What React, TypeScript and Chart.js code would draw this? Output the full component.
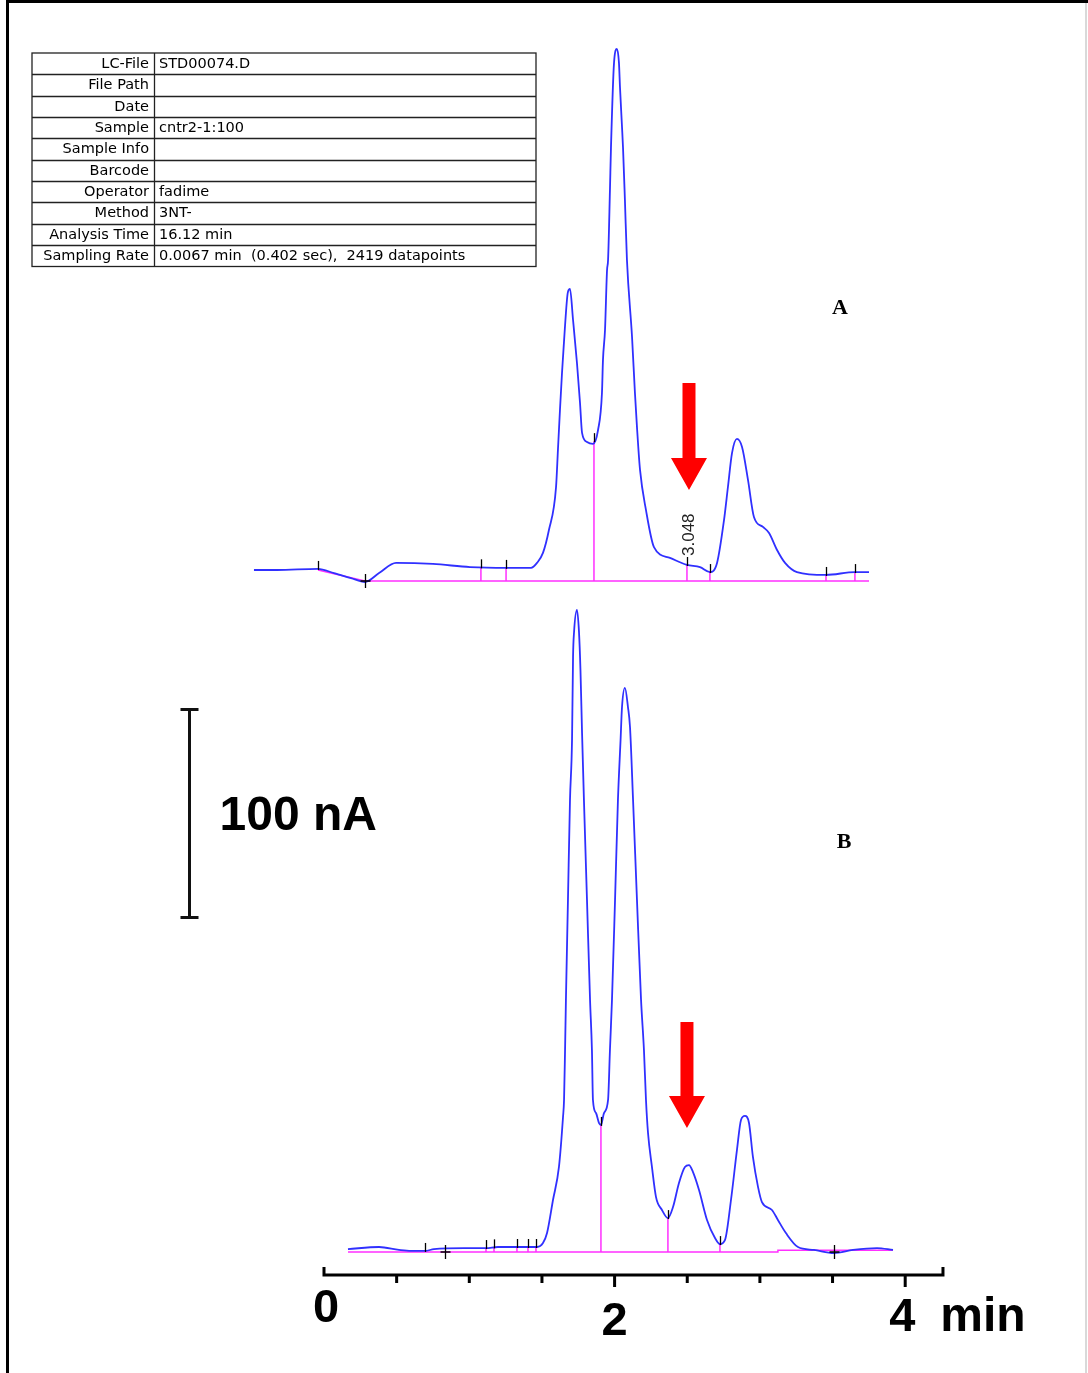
import React, { useEffect, useRef } from "react";
import { Chart, registerables } from "chart.js";

Chart.register(...registerables);

// ---------------- DATA ----------------
// Chromatogram A: retention time (min) and detector current above baseline (nA)
const TRACE_A_T = [-0.482, -0.323, -0.041, 0.069, 0.186, 0.282, 0.379, 0.496, 0.75, 1.005, 1.253, 1.425, 1.466, 1.507, 1.548, 1.597, 1.61, 1.624, 1.638, 1.645, 1.672, 1.679, 1.693, 1.714, 1.741, 1.762, 1.776, 1.81, 1.851, 1.886, 1.913, 1.92, 1.934, 1.948, 1.955, 1.968, 1.975, 1.996, 2.016, 2.03, 2.037, 2.051, 2.058, 2.071, 2.085, 2.12, 2.14, 2.154, 2.175, 2.216, 2.271, 2.381, 2.498, 2.588, 2.656, 2.705, 2.753, 2.78, 2.808, 2.842, 2.877, 2.918, 2.959, 3.021, 3.063, 3.118, 3.173, 3.255, 3.455, 3.654, 3.751];
const TRACE_A_V = [5.3, 5.3, 5.8, 3.8, 1.4, -0.5, 3.8, 8.7, 8.2, 6.7, 6.3, 6.3, 8.7, 13.5, 24.5, 45.2, 63.0, 82.2, 100.0, 107.7, 135.1, 139.0, 140.4, 125.5, 104.8, 85.6, 71.2, 66.8, 65.9, 72.6, 90.4, 106.3, 120.7, 149.5, 154.3, 188.0, 208.2, 249.1, 255.8, 249.1, 237.5, 218.3, 208.2, 183.2, 154.3, 117.3, 90.4, 74.0, 53.4, 34.1, 16.3, 11.1, 7.7, 6.7, 4.3, 8.7, 29.3, 45.2, 61.5, 68.3, 64.4, 48.6, 30.8, 26.0, 23.1, 14.9, 8.7, 4.3, 2.9, 4.3, 4.3];

// Chromatogram B
const TRACE_B_T = [0.165, 0.379, 0.516, 0.599, 0.695, 0.757, 0.963, 1.115, 1.197, 1.466, 1.507, 1.535, 1.576, 1.617, 1.645, 1.652, 1.659, 1.665, 1.679, 1.693, 1.707, 1.714, 1.721, 1.741, 1.755, 1.765, 1.776, 1.789, 1.81, 1.831, 1.844, 1.851, 1.872, 1.893, 1.906, 1.927, 1.955, 1.968, 1.982, 2.003, 2.023, 2.041, 2.051, 2.071, 2.092, 2.106, 2.127, 2.154, 2.182, 2.202, 2.216, 2.23, 2.257, 2.285, 2.326, 2.367, 2.402, 2.443, 2.484, 2.512, 2.539, 2.581, 2.636, 2.691, 2.725, 2.76, 2.801, 2.842, 2.87, 2.897, 2.925, 2.952, 2.987, 3.014, 3.083, 3.124, 3.179, 3.262, 3.372, 3.51, 3.641, 3.806, 3.916];
const TRACE_B_V = [1.4, 2.4, 1.0, 0.5, 0.5, 1.4, 1.9, 1.9, 2.4, 2.4, 4.3, 9.1, 25.0, 40.9, 64.9, 73.1, 97.1, 121.2, 169.2, 217.3, 246.2, 286.1, 298.1, 308.7, 298.0, 280.0, 249.5, 217.3, 169.2, 121.2, 97.1, 73.1, 66.8, 62.0, 61.1, 66.8, 73.1, 97.1, 121.2, 169.2, 217.3, 246.0, 262.0, 271.2, 262.0, 252.4, 217.3, 169.2, 121.2, 97.1, 73.1, 57.2, 40.9, 26.4, 20.2, 16.3, 21.6, 33.2, 40.9, 41.8, 38.5, 29.8, 15.4, 6.7, 3.8, 5.8, 25.0, 49.0, 63.5, 65.4, 62.0, 45.7, 31.3, 24.0, 20.2, 15.4, 9.1, 2.4, 1.0, -0.5, 1.0, 1.9, 1.0];

// Integration baselines
const BASE_A_T = [-0.041, 0.282, 3.751];
const BASE_A_V = [5.3, 0, 0];
const BASE_B_T = [0.165, 3.124, 3.124, 3.916];
const BASE_B_V = [0, 0, 0.8, 0.8];

// Peak drop lines (integration boundaries)
const DROPS_A_T = [1.08, 1.253, 1.858, 2.498, 2.656, 3.455, 3.654];
const DROPS_B_T = [1.115, 1.17, 1.328, 1.404, 1.459, 1.906, 2.367, 2.725];

// Event tick marks
const TICKS_A_T = [-0.041, 1.08, 1.253, 1.858, 2.498, 2.656, 3.455, 3.654];
const CROSS_A_T = [0.282];
const TICKS_B_T = [0.695, 1.115, 1.17, 1.328, 1.404, 1.459, 1.906, 2.367, 2.725];
const CROSS_B_T = [0.833, 3.51];

const PEAK_LABEL_A = "3.048";
const PEAK_LABEL_A_T = 2.498;

// Time axis
const AXIS_TICKS = [0, 0.5, 1, 1.5, 2, 2.5, 3, 3.5, 4];
const AXIS_MAJOR = [2, 4];
const AXIS_LABEL_VALUES = [0, 2, 4];
const AXIS_LABELS = ["0", "2", "4"];
const AXIS_END = 4.26;
const AXIS_UNIT = "min";

// Scale bar
const SCALE_BAR_NA = 100;
const SCALE_BAR_LABEL = "100 nA";

// Panel labels
const PANEL_LABELS = ["A", "B"];

// Info table
const TABLE_LABELS = ["LC-File", "File Path", "Date", "Sample", "Sample Info", "Barcode", "Operator", "Method", "Analysis Time", "Sampling Rate"];
const TABLE_VALUES = ["STD00074.D", "", "", "cntr2-1:100", "", "", "fadime", "3NT-", "16.12 min", "0.0067 min  (0.402 sec),  2419 datapoints"];

// ---------------- LAYOUT ----------------
const W = 1088;
const H = 1373;
const X0_PX = 324; // pixel of t = 0
const PX_PER_MIN = 145.3;
const PX_PER_NA = 2.08;
const BASE_A_PX = 581;
const BASE_B_PX = 1252;

const TRACE_COLOR = "#3030ff";
const PINK = "#ff30ff";

function interp(ts: number[], vs: number[], t: number): number {
  if (t <= ts[0]) return vs[0];
  for (let i = 0; i < ts.length - 1; i++) {
    if (t <= ts[i + 1]) {
      const d = ts[i + 1] - ts[i];
      if (d === 0) return vs[i + 1];
      return vs[i] + ((vs[i + 1] - vs[i]) * (t - ts[i])) / d;
    }
  }
  return vs[vs.length - 1];
}

function toPoints(ts: number[], vs: number[]) {
  return ts.map((t, i) => ({ x: t, y: vs[i] }));
}

function dropPoints(drops: number[], tt: number[], tv: number[], bt: number[], bv: number[]) {
  const pts: { x: number; y: number | null }[] = [];
  drops.forEach((t) => {
    pts.push({ x: t, y: interp(bt, bv, t) });
    pts.push({ x: t, y: interp(tt, tv, t) });
    pts.push({ x: t, y: null });
  });
  return pts;
}

const overlayPlugin = {
  id: "overlay",
  afterDatasetsDraw(chart: any) {
    const ctx: CanvasRenderingContext2D = chart.ctx;
    const xs = chart.scales.x;
    const yA = chart.scales.yA;
    const yB = chart.scales.yB;
    ctx.save();

    // frame
    ctx.fillStyle = "#000";
    ctx.fillRect(6, 0, W - 6, 3);
    ctx.fillRect(6, 0, 3, H);
    ctx.fillStyle = "#d9d9d9";
    ctx.fillRect(1085, 3, 2, H - 3);

    // info table
    const tL = 32, tR = 536, tT = 53, tDiv = 154;
    const rowH = 21.35;
    ctx.strokeStyle = "#222";
    ctx.lineWidth = 1.3;
    ctx.strokeRect(tL, tT, tR - tL, rowH * TABLE_LABELS.length);
    ctx.beginPath();
    for (let i = 1; i < TABLE_LABELS.length; i++) {
      const yy = Math.round(tT + rowH * i) + 0.5;
      ctx.moveTo(tL, yy);
      ctx.lineTo(tR, yy);
    }
    ctx.moveTo(tDiv + 0.5, tT);
    ctx.lineTo(tDiv + 0.5, tT + rowH * TABLE_LABELS.length);
    ctx.stroke();
    ctx.fillStyle = "#000";
    ctx.font = "14.5px 'DejaVu Sans'";
    ctx.textBaseline = "middle";
    TABLE_LABELS.forEach((lab, i) => {
      const cy = tT + rowH * i + rowH / 2 + 0.5;
      ctx.textAlign = "right";
      ctx.fillText(lab, tDiv - 5, cy);
      ctx.textAlign = "left";
      ctx.fillText(TABLE_VALUES[i], tDiv + 5, cy);
    });

    // event ticks
    ctx.strokeStyle = "#000";
    ctx.lineWidth = 1.3;
    const tickAt = (ys: any, tt: number[], tv: number[], t: number) => {
      const px = Math.round(xs.getPixelForValue(t)) + 0.5;
      const py = ys.getPixelForValue(interp(tt, tv, t));
      ctx.beginPath();
      ctx.moveTo(px, py - 8);
      ctx.lineTo(px, py + 1);
      ctx.stroke();
    };
    const crossAt = (ys: any, t: number) => {
      const px = Math.round(xs.getPixelForValue(t)) + 0.5;
      const py = ys.getPixelForValue(0);
      ctx.beginPath();
      ctx.moveTo(px, py - 7);
      ctx.lineTo(px, py + 7);
      ctx.moveTo(px - 5, py);
      ctx.lineTo(px + 5, py);
      ctx.stroke();
    };
    TICKS_A_T.forEach((t) => tickAt(yA, TRACE_A_T, TRACE_A_V, t));
    CROSS_A_T.forEach((t) => crossAt(yA, t));
    TICKS_B_T.forEach((t) => tickAt(yB, TRACE_B_T, TRACE_B_V, t));
    CROSS_B_T.forEach((t) => crossAt(yB, t));

    // peak label (rotated)
    {
      const px = xs.getPixelForValue(PEAK_LABEL_A_T) + 2;
      const py = yA.getPixelForValue(interp(TRACE_A_T, TRACE_A_V, PEAK_LABEL_A_T)) - 9;
      ctx.save();
      ctx.translate(px, py);
      ctx.rotate(-Math.PI / 2);
      ctx.font = "17px 'Liberation Sans', Arial";
      ctx.fillStyle = "#222";
      ctx.textAlign = "left";
      ctx.textBaseline = "middle";
      ctx.fillText(PEAK_LABEL_A, 0, 0);
      ctx.restore();
    }

    // red arrows
    const arrow = (ys: any, t: number, tipV: number, topV: number) => {
      const cx = xs.getPixelForValue(t);
      const tip = ys.getPixelForValue(tipV);
      const top = ys.getPixelForValue(topV);
      const headLen = 32, headHalf = 18, shaftHalf = 6.5;
      ctx.beginPath();
      ctx.moveTo(cx - shaftHalf, top);
      ctx.lineTo(cx + shaftHalf, top);
      ctx.lineTo(cx + shaftHalf, tip - headLen);
      ctx.lineTo(cx + headHalf, tip - headLen);
      ctx.lineTo(cx, tip);
      ctx.lineTo(cx - headHalf, tip - headLen);
      ctx.lineTo(cx - shaftHalf, tip - headLen);
      ctx.closePath();
      ctx.fillStyle = "#ff0000";
      ctx.fill();
    };
    arrow(yA, 2.512, 43.75, 95.2);
    arrow(yB, 2.498, 59.6, 110.6);

    // panel labels
    ctx.fillStyle = "#000";
    ctx.font = "bold 22px 'Liberation Serif', 'Times New Roman', serif";
    ctx.textAlign = "center";
    ctx.textBaseline = "middle";
    ctx.fillText(PANEL_LABELS[0], xs.getPixelForValue(3.551), yA.getPixelForValue(131.3));
    ctx.fillText(PANEL_LABELS[1], xs.getPixelForValue(3.579), yB.getPixelForValue(197.1));

    // scale bar
    {
      const bx = Math.round(xs.getPixelForValue(-0.929)) + 0.5;
      const b0 = yB.getPixelForValue(160.8);
      const b1 = yB.getPixelForValue(160.8 + SCALE_BAR_NA);
      ctx.strokeStyle = "#111";
      ctx.lineWidth = 3;
      ctx.beginPath();
      ctx.moveTo(bx, b0);
      ctx.lineTo(bx, b1);
      ctx.moveTo(bx - 9, b0);
      ctx.lineTo(bx + 9, b0);
      ctx.moveTo(bx - 9, b1);
      ctx.lineTo(bx + 9, b1);
      ctx.stroke();
      ctx.fillStyle = "#000";
      ctx.font = "bold 48px 'Liberation Sans', Arial, sans-serif";
      ctx.textAlign = "left";
      ctx.textBaseline = "middle";
      ctx.fillText(SCALE_BAR_LABEL, bx + 30, (b0 + b1) / 2 + 3);
    }

    // time axis
    {
      const ay = yB.getPixelForValue(0) + 23;
      const x0 = xs.getPixelForValue(0);
      const x1 = xs.getPixelForValue(AXIS_END);
      ctx.strokeStyle = "#000";
      ctx.lineWidth = 3;
      ctx.beginPath();
      ctx.moveTo(x0 - 1.5, ay);
      ctx.lineTo(x1 + 1.5, ay);
      ctx.moveTo(x0, ay - 8);
      ctx.lineTo(x0, ay + 1.5);
      ctx.moveTo(x1, ay - 8);
      ctx.lineTo(x1, ay + 1.5);
      AXIS_TICKS.forEach((t) => {
        if (t === 0) return;
        const px = xs.getPixelForValue(t);
        const len = AXIS_MAJOR.includes(t) ? 12 : 8;
        ctx.moveTo(px, ay);
        ctx.lineTo(px, ay + len);
      });
      ctx.stroke();
      const dy = [47, 60, 56];
      const dx = [2, 0, -3];
      ctx.fillStyle = "#000";
      ctx.font = "bold 47px 'Liberation Sans', Arial, sans-serif";
      ctx.textAlign = "center";
      ctx.textBaseline = "alphabetic";
      AXIS_LABELS.forEach((lab, i) => {
        ctx.fillText(lab, xs.getPixelForValue(AXIS_LABEL_VALUES[i]) + dx[i], ay + dy[i]);
      });
      ctx.textAlign = "left";
      ctx.font = "bold 48px 'Liberation Sans', Arial, sans-serif";
      ctx.fillText(AXIS_UNIT, xs.getPixelForValue(4) + 35, ay + 56);
    }

    ctx.restore();
  },
};

export default function App() {
  const ref = useRef<HTMLCanvasElement>(null);

  useEffect(() => {
    const canvas = ref.current;
    if (!canvas) return;
    const pinkStyle = { borderColor: PINK, borderWidth: 1.5, showLine: true, pointRadius: 0, order: 1 };
    const traceStyle = { borderColor: TRACE_COLOR, borderWidth: 1.8, showLine: true, pointRadius: 0, order: 0, cubicInterpolationMode: "monotone" };
    const chart = new Chart(canvas, {
      type: "scatter",
      data: {
        datasets: [
          { label: "A", data: toPoints(TRACE_A_T, TRACE_A_V), yAxisID: "yA", ...traceStyle } as any,
          { label: "B", data: toPoints(TRACE_B_T, TRACE_B_V), yAxisID: "yB", ...traceStyle } as any,
          { label: "baseA", data: toPoints(BASE_A_T, BASE_A_V), yAxisID: "yA", ...pinkStyle } as any,
          { label: "baseB", data: toPoints(BASE_B_T, BASE_B_V), yAxisID: "yB", ...pinkStyle } as any,
          { label: "dropsA", data: dropPoints(DROPS_A_T, TRACE_A_T, TRACE_A_V, BASE_A_T, BASE_A_V), yAxisID: "yA", spanGaps: false, ...pinkStyle } as any,
          { label: "dropsB", data: dropPoints(DROPS_B_T, TRACE_B_T, TRACE_B_V, BASE_B_T, BASE_B_V), yAxisID: "yB", spanGaps: false, ...pinkStyle } as any,
        ],
      },
      options: {
        responsive: false,
        maintainAspectRatio: false,
        devicePixelRatio: 1,
        animation: false,
        events: [],
        layout: { padding: 0 },
        elements: { point: { radius: 0 }, line: { tension: 0 } },
        plugins: { legend: { display: false }, tooltip: { enabled: false }, title: { display: false } },
        scales: {
          x: { type: "linear", display: false, min: -X0_PX / PX_PER_MIN, max: (W - X0_PX) / PX_PER_MIN },
          yA: { type: "linear", display: false, min: -(H - BASE_A_PX) / PX_PER_NA, max: BASE_A_PX / PX_PER_NA },
          yB: { type: "linear", display: false, min: -(H - BASE_B_PX) / PX_PER_NA, max: BASE_B_PX / PX_PER_NA },
        },
      } as any,
      plugins: [overlayPlugin],
    });
    return () => chart.destroy();
  }, []);

  return (
    <div style={{ position: "absolute", left: 0, top: 0, width: W, height: H, background: "#fff" }}>
      <canvas ref={ref} width={W} height={H} style={{ display: "block", width: W, height: H }} />
    </div>
  );
}
